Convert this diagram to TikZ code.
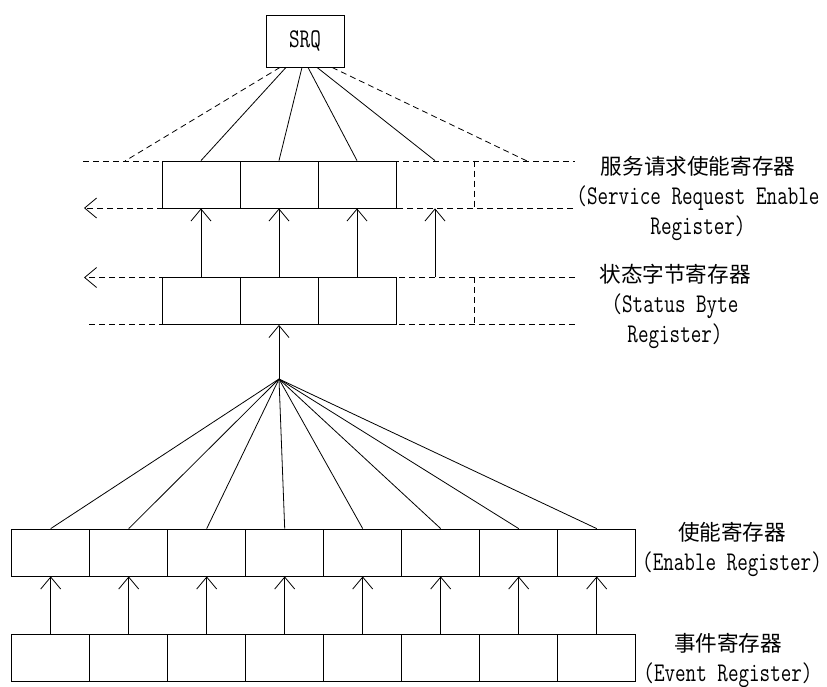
\documentclass[tikz,border=0pt]{standalone}
\usepackage{fontspec}
\setmainfont{Latin Modern Mono}[FakeStretch=0.76]
\newfontfamily\cjk{Noto Sans CJK SC}[Scale=0.8]
\usetikzlibrary{arrows.meta}

\begin{document}
\begin{tikzpicture}[x=1pt, y=-1pt, line width=0.8pt, font=\fontsize{27}{30}\selectfont,
  cell/.style={draw, rectangle, minimum width=78pt, minimum height=47pt, inner sep=0pt},
  ghost/.style={rectangle, minimum width=78pt, minimum height=47pt, inner sep=0pt},
  dash line/.style={dash pattern=on 6pt off 4pt},
  up/.style={-{Straight Barb[length=12pt,width=20pt,line width=0.8pt]}},
  regname/.style={align=center, inner sep=0pt}]
\useasboundingbox (0,0) rectangle (827,686);
\node[cell, minimum height=52pt] (srq) at (305,41) {SRQ};
\node[cell] (sre1) at (201,184.5) {};
\node[cell] (sre2) at (279,184.5) {};
\node[cell] (sre3) at (357,184.5) {};
\node[ghost] (sre4) at (435,184.5) {};
\node[cell] (sb1) at (201,301) {};
\node[cell] (sb2) at (279,301) {};
\node[cell] (sb3) at (357,301) {};
\node[ghost] (sb4) at (435,301) {};
\node[cell] (en1) at (50.7,552.5) {};
\node[cell] (en2) at (128.7,552.5) {};
\node[cell] (en3) at (206.7,552.5) {};
\node[cell] (en4) at (284.7,552.5) {};
\node[cell] (en5) at (362.7,552.5) {};
\node[cell] (en6) at (440.7,552.5) {};
\node[cell] (en7) at (518.7,552.5) {};
\node[cell] (en8) at (596.7,552.5) {};
\node[cell] (ev1) at (50.7,657.5) {};
\node[cell] (ev2) at (128.7,657.5) {};
\node[cell] (ev3) at (206.7,657.5) {};
\node[cell] (ev4) at (284.7,657.5) {};
\node[cell] (ev5) at (362.7,657.5) {};
\node[cell] (ev6) at (440.7,657.5) {};
\node[cell] (ev7) at (518.7,657.5) {};
\node[cell] (ev8) at (596.7,657.5) {};
\coordinate (fan) at (279,379);
\coordinate (sreL) at (125,161);
\coordinate (sreR) at (527,161);
\coordinate (sreTL) at (83,161);
\coordinate (sreTR) at (575,161);
\coordinate (sreBL) at (84,208);
\coordinate (sreBR) at (573,208);
\coordinate (sbTL) at (84,277.5);
\coordinate (sbTR) at (575,277.5);
\coordinate (sbBL) at (89,324.5);
\coordinate (sbBR) at (577,324.5);
\draw[dash line] (sreTL) -- (sreTR);
\draw[dash line, up] (sreBR) -- (sreBL);
\draw[dash line] (sre4.north east) -- (sre4.south east);
\draw[dash line, up] (sbTR) -- (sbTL);
\draw[dash line] (sbBL) -- (sbBR);
\draw[dash line] (sb4.north east) -- (sb4.south east);
\path
([xshift=-25pt]srq.south) edge[dash line] (sreL)
([xshift=-19pt]srq.south) edge (sre1.north)
([xshift=-3pt]srq.south) edge (sre2.north)
([xshift=3pt]srq.south) edge (sre3.north)
([xshift=12pt]srq.south) edge (sre4.north)
([xshift=27pt]srq.south) edge[dash line] (sreR);
\path[up]
(sb1.north) edge (sre1.south)
(sb2.north) edge (sre2.south)
(sb3.north) edge (sre3.south)
(sb4.north) edge (sre4.south)
(fan) edge (sb2.south);
\path
(fan) edge (en1.north)
(fan) edge (en2.north)
(fan) edge (en3.north)
(fan) edge (en4.north)
(fan) edge (en5.north)
(fan) edge (en6.north)
(fan) edge (en7.north)
(fan) edge (en8.north);
\path[up]
(ev1.north) edge (en1.south)
(ev2.north) edge (en2.south)
(ev3.north) edge (en3.south)
(ev4.north) edge (en4.south)
(ev5.north) edge (en5.south)
(ev6.north) edge (en6.south)
(ev7.north) edge (en7.south)
(ev8.north) edge (en8.south);
\node[regname] (sreName) at (698,198) {{\cjk 服务请求使能寄存器}\\(Service Request Enable\\Register)};
\node[regname] (sbName) at (675,306) {{\cjk 状态字节寄存器}\\(Status Byte\\Register)};
\node[regname] (enName) at (732,549) {{\cjk 使能寄存器}\\(Enable Register)};
\node[regname] (evName) at (728,660) {{\cjk 事件寄存器}\\(Event Register)};
\end{tikzpicture}
\end{document}
